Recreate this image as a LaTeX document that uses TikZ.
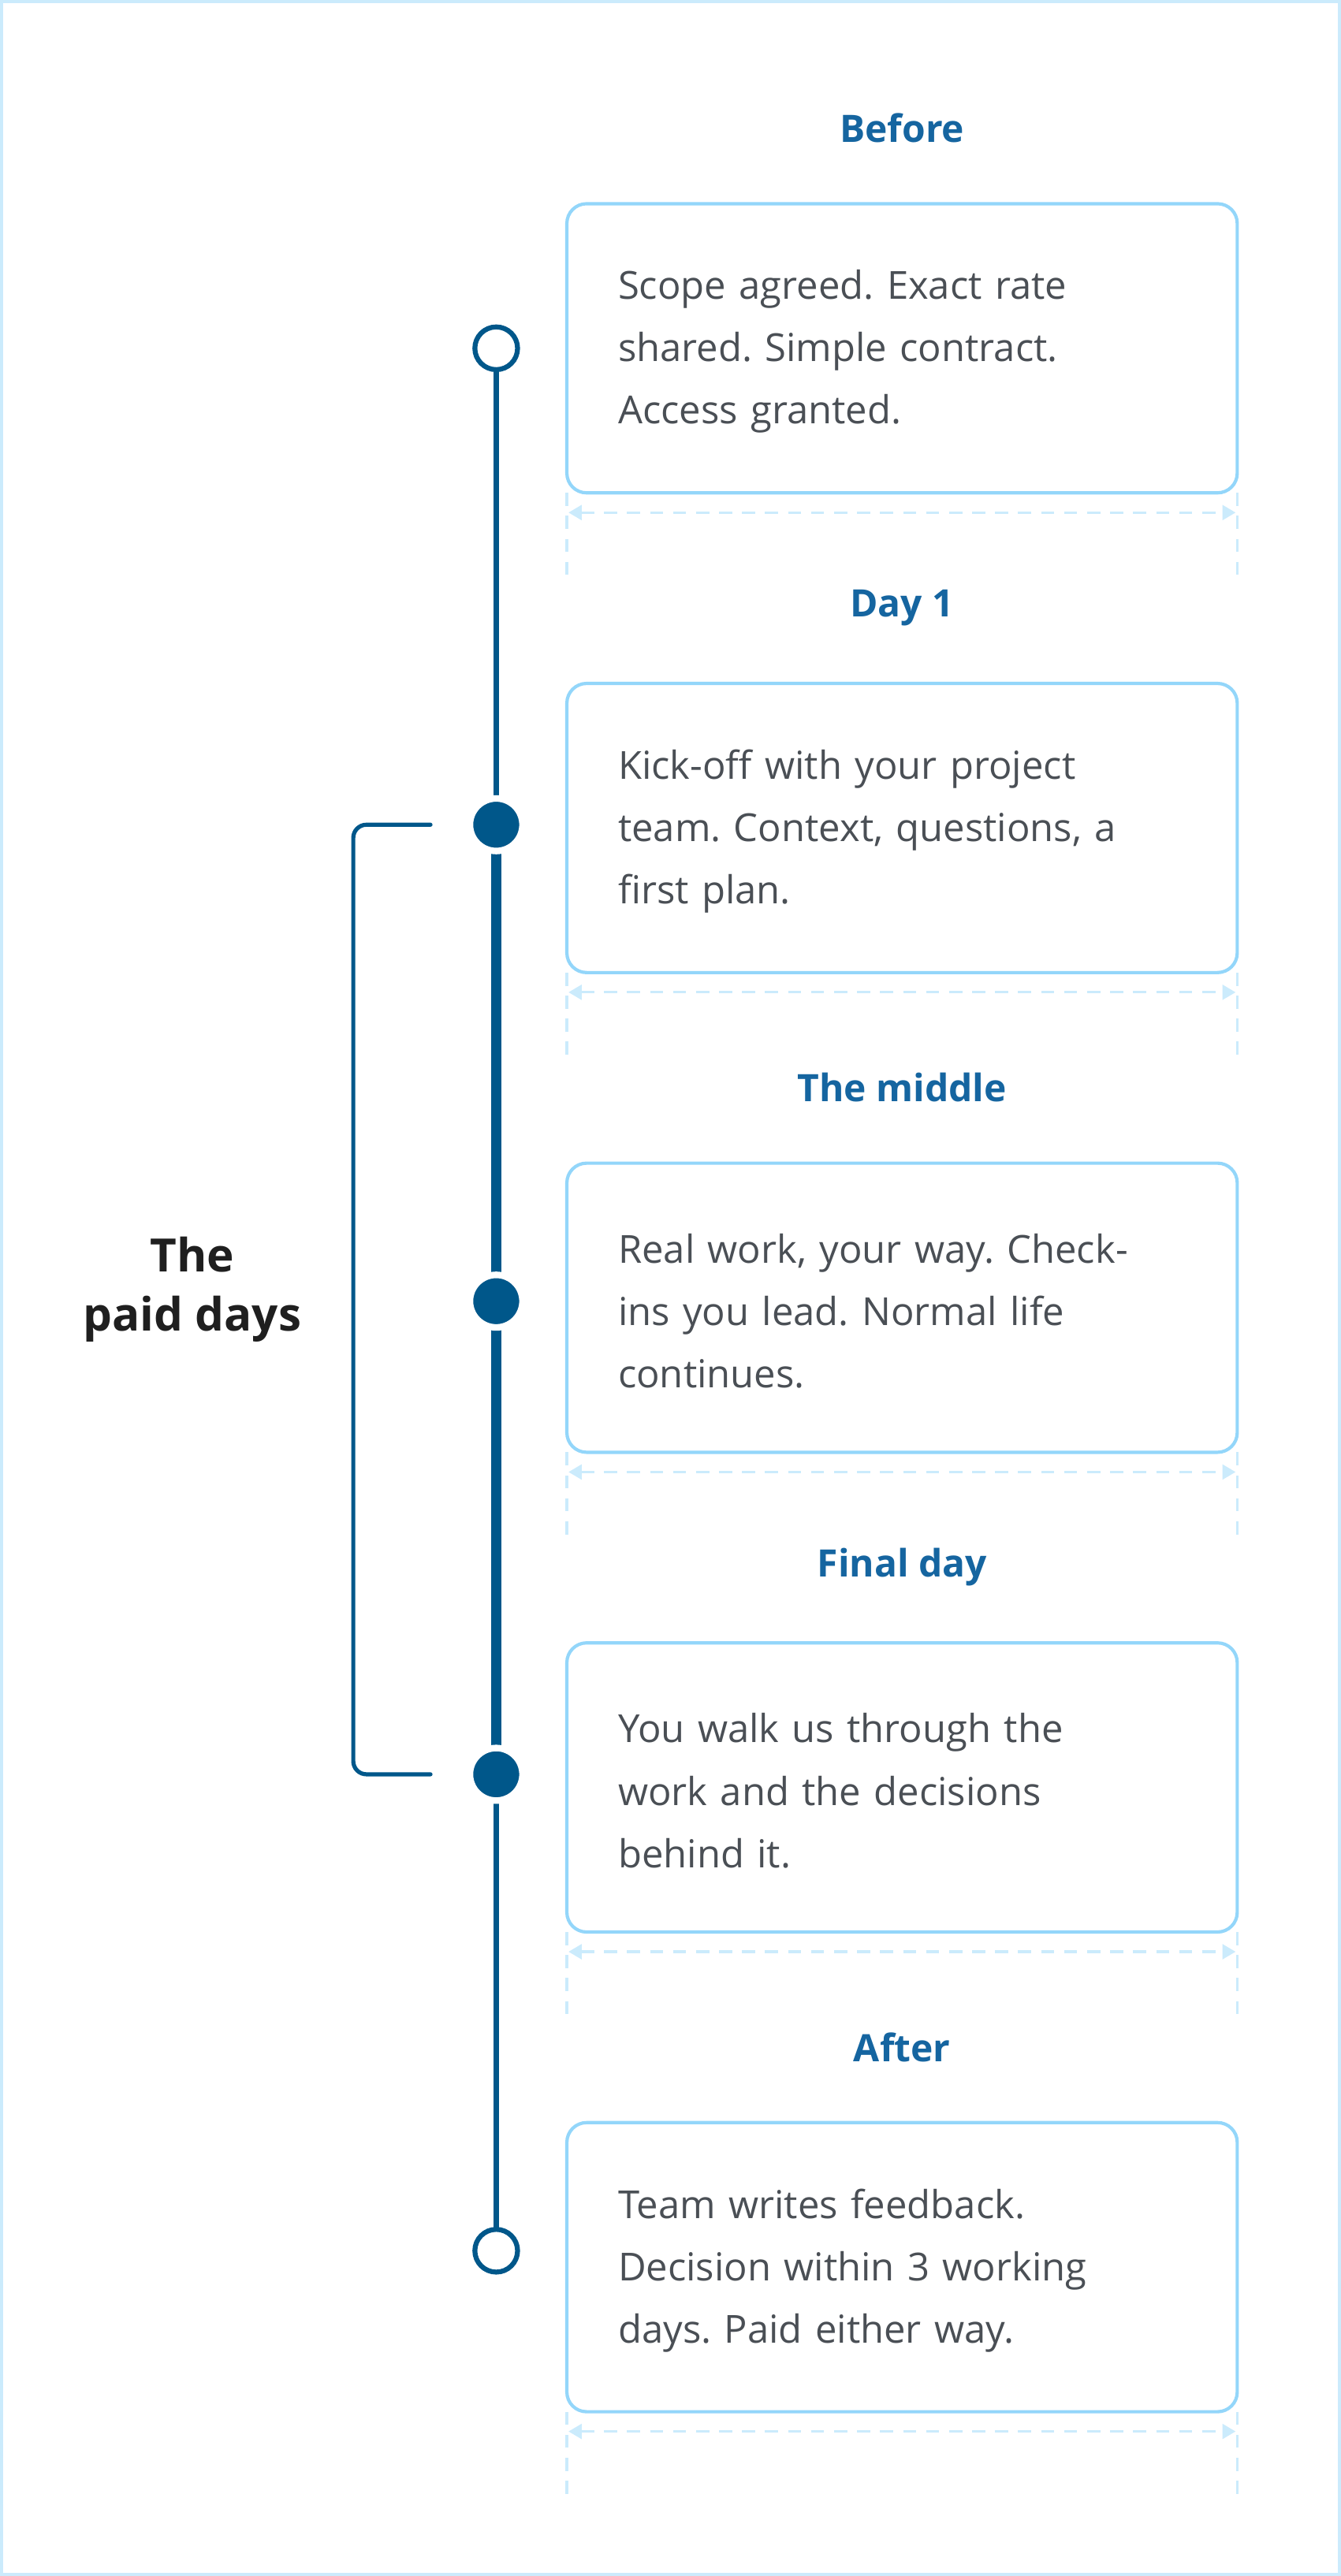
\documentclass[tikz,border=0pt]{standalone}
\usepackage{fontspec}
\setmainfont{Open Sans}
\frenchspacing
\usetikzlibrary{arrows.meta,shadows}
\definecolor{navy}{HTML}{00578A}
\definecolor{head}{HTML}{1565A0}
\definecolor{boxc}{HTML}{93D6FA}
\definecolor{dimc}{HTML}{CBEBFC}
\definecolor{txt}{HTML}{4A4F55}
\begin{document}
\begin{tikzpicture}[x=1pt,y=-1pt,
  card/.style={draw=boxc,line width=2pt,rounded corners=12pt,fill=white},
  head/.style={font=\fontsize{23}{26}\selectfont\bfseries,text=head},
  body/.style={font=\fontsize{23.5}{38}\selectfont,text=txt,align=left,anchor=west,text width=360pt,inner sep=0pt},
  open/.style={circle,draw=navy,line width=3pt,fill=white,minimum size=26pt,inner sep=0pt},
  full/.style={circle,draw=white,line width=4pt,fill=navy,minimum size=32pt,inner sep=0pt,drop shadow={shadow xshift=0pt,shadow yshift=-1pt,opacity=0.3}},
  dim/.style={draw=dimc,line width=1.5pt,dash pattern=on 8pt off 6pt}]
\useasboundingbox (0,0) rectangle (816,1568);
\draw[draw=dimc,line width=2pt] (1,1) rectangle (815,1567);
\foreach \i/\h/\t in {0/Before/{Scope agreed. Exact rate\\shared. Simple contract.\\Access granted.},
  1/Day 1/{Kick-off with your project\\team. Context, questions, a\\first plan.},
  2/The middle/{Real work, your way. Check-\\ins you lead. Normal life\\continues.},
  3/Final day/{You walk us through the\\work and the decisions\\behind it.},
  4/After/{Team writes feedback.\\Decision within 3 working\\days. Paid either way.}}{
  \pgfmathsetmacro\o{292*\i}
  \node[head] (h\i) at (549,78+\o) {\h};
  \draw[card] (345,124+\o) rectangle (753,300+\o);
  \node[body] (b\i) at (376,214+\o) {\t};
  \draw[dim] (345,300+\o) -- (345,352+\o);
  \draw[dim] (753,300+\o) -- (753,352+\o);
  \draw[dim,{Triangle[width=9pt,length=8pt,fill=dimc]}-{Triangle[width=9pt,length=8pt,fill=dimc]}] (346,312+\o) -- (752,312+\o);
}
\coordinate (t0) at (302,212);
\coordinate (t1) at (302,502);
\coordinate (t2) at (302,792);
\coordinate (t3) at (302,1080);
\coordinate (t4) at (302,1370);
\draw[navy,line width=3.5pt] (t0) -- (t1);
\draw[navy,line width=6pt] (t1) -- (t3);
\draw[navy,line width=3.5pt] (t3) -- (t4);
\node[open] (c0) at (t0) {};
\node[open] (c4) at (t4) {};
\node[full] (c1) at (t1) {};
\node[full] (c2) at (t2) {};
\node[full] (c3) at (t3) {};
\coordinate (bA) at (262,502);
\coordinate (bB) at (262,1080);
\draw[navy,line width=2.5pt,line cap=round,rounded corners=8pt] (bA) -- (215,502) -- (215,1080) -- (bB);
\node[font=\fontsize{28}{36}\selectfont\bfseries,text=black!88,align=center] (lbl) at (117,785) {The\\paid days};
\end{tikzpicture}
\end{document}
